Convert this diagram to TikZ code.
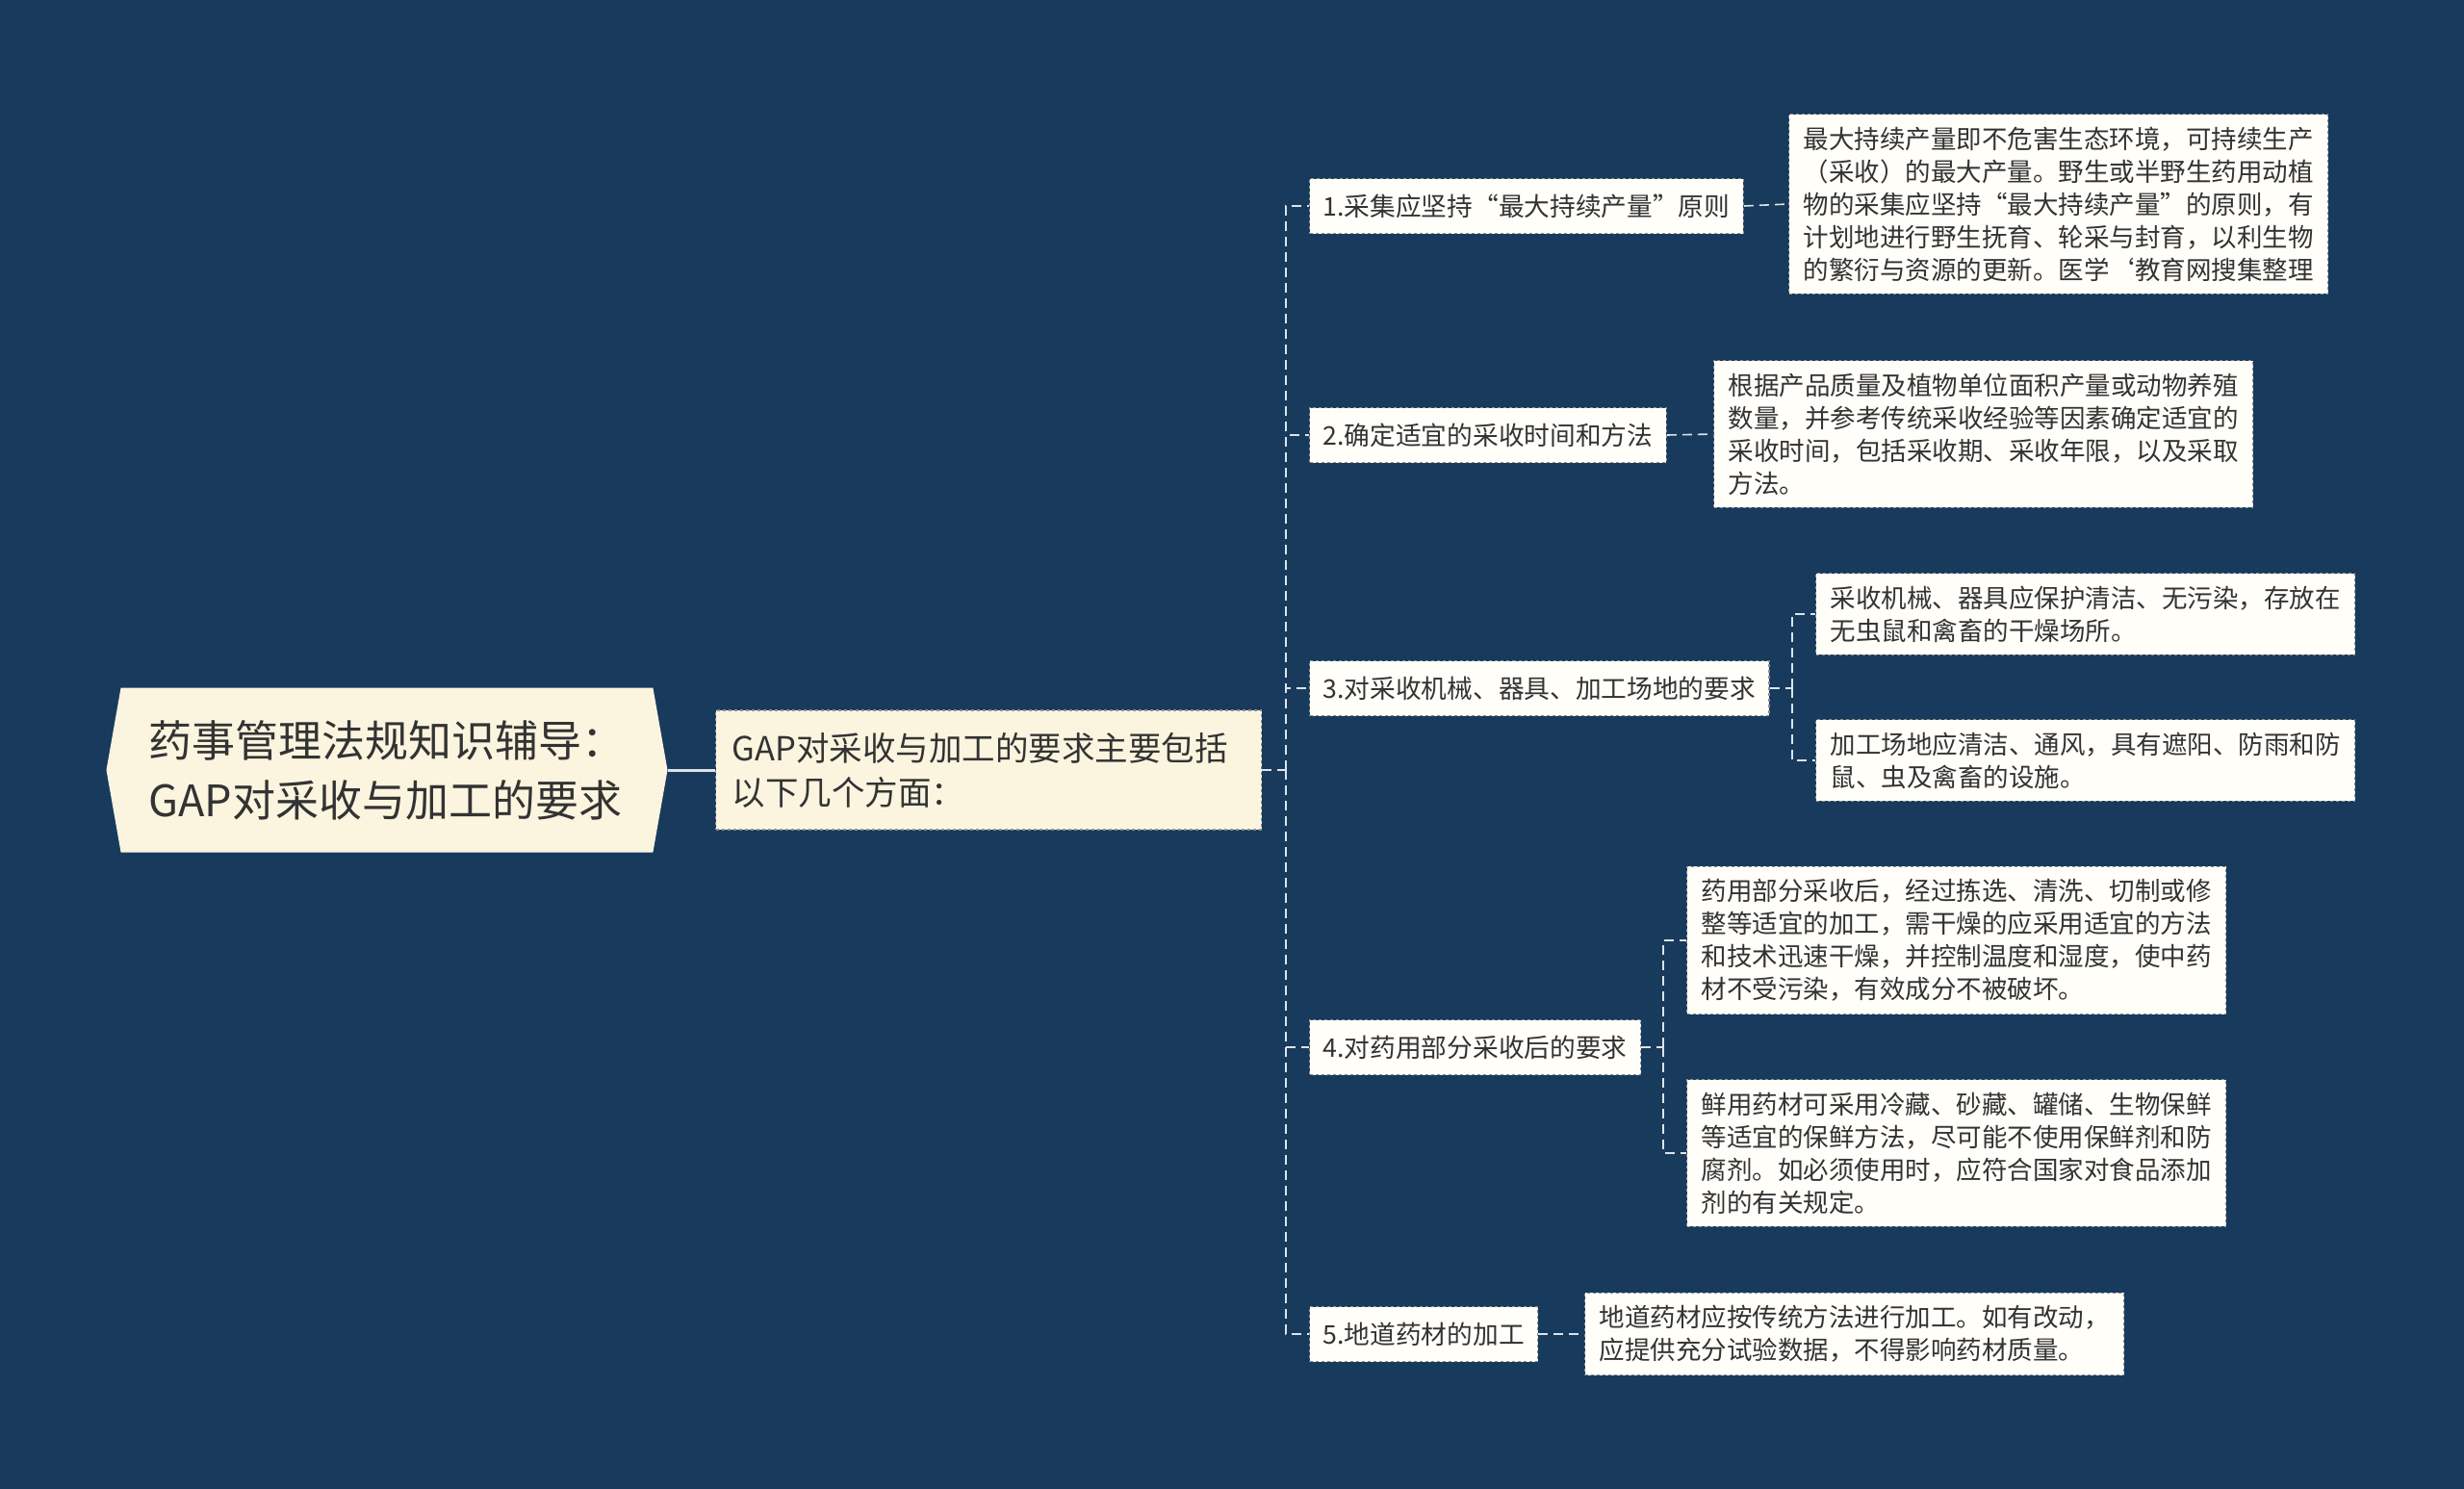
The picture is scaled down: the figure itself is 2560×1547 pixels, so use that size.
\documentclass[tikz,border=0pt]{standalone}
\usepackage{fontspec}
\setmainfont{Noto Sans CJK SC}[Ligatures=ResetAll]
\usetikzlibrary{backgrounds,shapes.symbols}

\definecolor{bgblue}{HTML}{183B5D}
\definecolor{cream}{HTML}{FBF5DF}
\definecolor{paper}{HTML}{FFFEF8}
\definecolor{ink}{HTML}{333333}
\definecolor{edge}{HTML}{8E8E8E}
\definecolor{wire}{HTML}{DDE3EA}

\begin{document}
\begin{tikzpicture}[x=1pt,y=-1pt,
  rootbox/.style={shape=signal, signal to=west and east, signal pointer angle=160,
    fill=cream, text=ink, align=left, inner sep=0pt,
    minimum width=583pt, minimum height=171pt,
    font=\fontsize{45}{62}\selectfont},
  mainbox/.style={fill=cream, draw=edge, dashed, line width=1.2pt, text=ink,
    align=left, text width=533pt, inner xsep=17pt, inner ysep=12pt, minimum height=124pt,
    font=\fontsize{34.5}{46}\selectfont},
  topicbox/.style={fill=paper, draw=edge, dashed, line width=1.2pt, text=ink,
    inner xsep=14pt, inner ysep=0pt, minimum height=57pt,
    font=\fontsize{26.7}{32}\selectfont},
  notebox/.style={fill=paper, draw=edge, dashed, line width=1.2pt, text=ink,
    align=left, inner xsep=15pt, inner ysep=13pt,
    font=\fontsize{26.5}{34}\selectfont},
  trunk/.style={draw=wire, line width=3pt},
  link/.style={draw=wire, line width=1.6pt, dash pattern=on 10pt off 6pt}
]

\useasboundingbox (0,0) rectangle (2560,1547);
\fill[bgblue] (0,0) rectangle (2560,1547);

\node[rootbox] (root) at (402,800) {药事管理法规知识辅导：\\GAP对采收与加工的要求};
\node[mainbox, anchor=west] (main) at (743,800) {GAP对采收与加工的要求主要包括\\以下几个方面：};

\node[topicbox, anchor=west] (b1) at (1360,214) {1.采集应坚持“最大持续产量”原则};
\node[topicbox, anchor=west] (b2) at (1360,452) {2.确定适宜的采收时间和方法};
\node[topicbox, anchor=west] (b3) at (1360,715) {3.对采收机械、器具、加工场地的要求};
\node[topicbox, anchor=west] (b4) at (1360,1088) {4.对药用部分采收后的要求};
\node[topicbox, anchor=west] (b5) at (1360,1386) {5.地道药材的加工};

\node[notebox, anchor=west] (c1) at (1858,212) {最大持续产量即不危害生态环境，可持续生产\\（采收）的最大产量。野生或半野生药用动植\\物的采集应坚持“最大持续产量”的原则，有\\计划地进行野生抚育、轮采与封育，以利生物\\的繁衍与资源的更新。医学`教育网搜集整理};
\node[notebox, anchor=west] (c2) at (1780,451) {根据产品质量及植物单位面积产量或动物养殖\\数量，并参考传统采收经验等因素确定适宜的\\采收时间，包括采收期、采收年限，以及采取\\方法。};
\node[notebox, anchor=west] (c3a) at (1886,638) {采收机械、器具应保护清洁、无污染，存放在\\无虫鼠和禽畜的干燥场所。};
\node[notebox, anchor=west] (c3b) at (1886,790) {加工场地应清洁、通风，具有遮阳、防雨和防\\鼠、虫及禽畜的设施。};
\node[notebox, anchor=west] (c4a) at (1752,977) {药用部分采收后，经过拣选、清洗、切制或修\\整等适宜的加工，需干燥的应采用适宜的方法\\和技术迅速干燥，并控制温度和湿度，使中药\\材不受污染，有效成分不被破坏。};
\node[notebox, anchor=west] (c4b) at (1752,1198) {鲜用药材可采用冷藏、砂藏、罐储、生物保鲜\\等适宜的保鲜方法，尽可能不使用保鲜剂和防\\腐剂。如必须使用时，应符合国家对食品添加\\剂的有关规定。};
\node[notebox, anchor=west] (c5) at (1646,1386) {地道药材应按传统方法进行加工。如有改动，\\应提供充分试验数据，不得影响药材质量。};

\coordinate (hub) at (1336,800);
\coordinate (fork3) at (1862,715);
\coordinate (fork4) at (1728,1088);

\draw[trunk] (root.east) -- (main.west);
\draw[link] (main.east) -- (hub);
\foreach \n in {b1,b2,b3,b4,b5}
  \draw[link] (hub) |- (\n.west);

\draw[link] (b1.east) -- (c1.west);
\draw[link] (b2.east) -- (c2.west);
\draw[link] (b3.east) -- (fork3);
\draw[link] (fork3) |- (c3a.west);
\draw[link] (fork3) |- (c3b.west);
\draw[link] (b4.east) -- (fork4);
\draw[link] (fork4) |- (c4a.west);
\draw[link] (fork4) |- (c4b.west);
\draw[link] (b5.east) -- (c5.west);
\end{tikzpicture}
\end{document}
